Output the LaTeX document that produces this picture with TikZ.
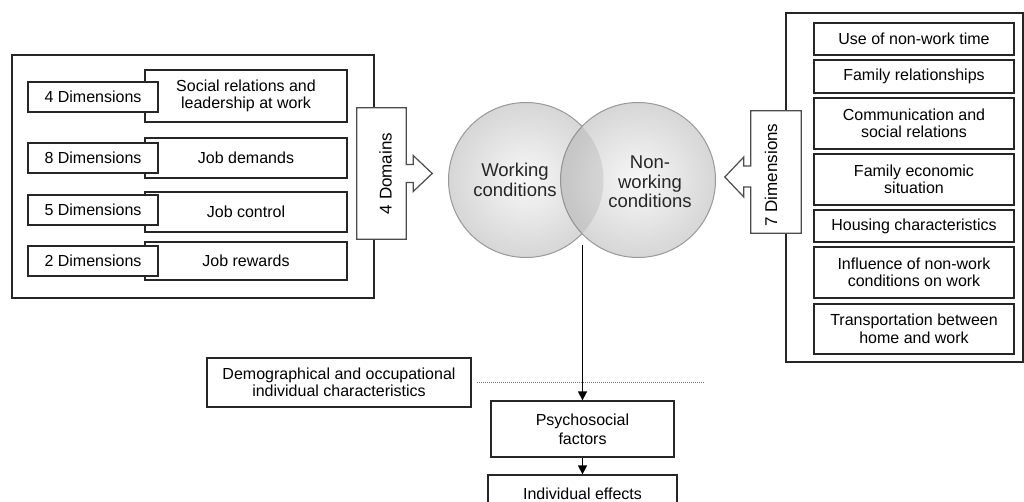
\documentclass[tikz,border=0pt]{standalone}
\usepackage{fontspec}
\setmainfont{Liberation Sans}
\usetikzlibrary{calc}
\usetikzlibrary{positioning, arrows.meta}

\begin{document}
\begin{tikzpicture}[x=1pt, y=-1pt]
        \path[use as bounding box, fill=white] (0,0) rectangle (1024,502);
        % Define styles for shapes
        \tikzstyle{outerframe} = [draw=black!85, line width=1.3pt, inner sep=0pt]
        \tikzstyle{itembox} = [draw=black!85, fill=white, line width=1.3pt, inner sep=0pt, align=center, font=\fontsize{16}{17.5}\selectfont]
        \tikzstyle{sidelabel} = [inner sep=0pt, font=\fontsize{17}{20}\selectfont]
        \tikzstyle{callout} = [draw=black!70, fill=white, line width=1.2pt]
        \tikzstyle{venn} = [circle, draw=black!40, line width=1pt, minimum size=155pt, inner sep=0pt, inner color=black!3, outer color=black!16]
        \tikzstyle{venntext} = [align=center, font=\fontsize{18.5}{19.5}\selectfont, text=black!85]
        \tikzstyle{flow} = [line width=1.6pt, -{Triangle[length=9pt, width=9pt]}]
        \tikzstyle{dotline} = [black!55, line width=0.9pt, dash pattern=on 1pt off 1pt]

        % Draw shapes
        % working conditions side
        \node[outerframe, minimum width=362pt, minimum height=243pt] (leftframe) at (193,176.5) {};
        \node[itembox, minimum width=202pt, minimum height=52pt] (dom1) at (246,96) {Social relations and\\leadership at work};
        \node[itembox, minimum width=202pt, minimum height=40pt] (dom2) at (246,158) {Job demands};
        \node[itembox, minimum width=202pt, minimum height=40pt] (dom3) at (246,212) {Job control};
        \node[itembox, minimum width=202pt, minimum height=38pt] (dom4) at (246,261) {Job rewards};
        \node[itembox, minimum width=130pt, minimum height=30pt] (dim1) at (93,97) {4 Dimensions};
        \node[itembox, minimum width=130pt, minimum height=30pt] (dim2) at (93,158) {8 Dimensions};
        \node[itembox, minimum width=130pt, minimum height=30pt] (dim3) at (93,210) {5 Dimensions};
        \node[itembox, minimum width=130pt, minimum height=30pt] (dim4) at (93,261) {2 Dimensions};

        \node[minimum width=49pt, minimum height=131pt, inner sep=0pt] (domains) at (381.5,173.5) {};
        \draw[callout] (domains.north west) -- (domains.north east) -- ($(domains.east)+(0,-9)$) -- ++(7,0) -- ++(0,-9)
            -- ++(19,18) -- ++(-19,18) -- ++(0,-9) -- ++(-7,0) -- (domains.south east) -- (domains.south west) -- cycle;
        \node[sidelabel] (domainstext) at ([xshift=4pt]domains.center) {\rotatebox{90}{4 Domains}};

        % non-working conditions side
        \node[outerframe, minimum width=237pt, minimum height=349pt] (rightframe) at (904.5,187.5) {};
        \node[itembox, minimum width=200pt, minimum height=32pt] (nw1) at (914,39) {Use of non-work time};
        \node[itembox, minimum width=200pt, minimum height=33pt] (nw2) at (914,76.5) {Family relationships};
        \node[itembox, minimum width=200pt, minimum height=51pt] (nw3) at (914,123.5) {Communication and\\social relations};
        \node[itembox, minimum width=200pt, minimum height=51pt] (nw4) at (914,179.5) {Family economic\\situation};
        \node[itembox, minimum width=200pt, minimum height=32pt] (nw5) at (914,226) {Housing characteristics};
        \node[itembox, minimum width=200pt, minimum height=51pt] (nw6) at (914,272.5) {Influence of non-work\\conditions on work};
        \node[itembox, minimum width=200pt, minimum height=50pt] (nw7) at (914,329) {Transportation between\\home and work};

        \node[minimum width=50pt, minimum height=122pt, inner sep=0pt] (sevendim) at (776,172) {};
        \draw[callout] (sevendim.north east) -- (sevendim.north west) -- ($(sevendim.west)+(0,-6)$) -- ++(-7,0) -- ++(0,-9)
            -- ++(-19,20) -- ++(19,20) -- ++(0,-10) -- ++(7,0) -- (sevendim.south west) -- (sevendim.south east) -- cycle;
        \node[sidelabel] (sevendimtext) at (771,175) {\rotatebox{90}{7 Dimensions}};

        % venn diagram
        \node[venn] (work) at (526,180) {};
        \node[venn] (nonwork) at (638,180) {};
        \begin{scope}
            \clip (work.center) circle (77.5pt);
            \fill[black, opacity=0.08] (nonwork.center) circle (77.5pt);
        \end{scope}
        \node[venntext] (worktext) at (515,180) {Working\\conditions};
        \node[venntext] (nonworktext) at (650,182) {Non-\\working\\conditions};

        % outcomes
        \node[itembox, minimum width=264pt, minimum height=49pt] (demo) at (339,382.5) {Demographical and occupational\\individual characteristics};
        \node[itembox, minimum width=183pt, minimum height=56pt, font=\fontsize{16}{19}\selectfont] (psycho) at (582.5,429) {Psychosocial\\factors};
        \node[itembox, minimum width=189pt, minimum height=37pt] (effects) at (582.5,493.5) {Individual effects};

        % Draw arrows
        \coordinate (vennfoot) at (582.5,245);
        \coordinate (dotend) at (703,382.5);
        \draw[dotline] ([xshift=5pt]demo.east) -- (dotend);
        \draw[flow] (vennfoot) -- (psycho.north);
        \draw[flow] (psycho.south) -- (effects.north);
\end{tikzpicture}
\end{document}
